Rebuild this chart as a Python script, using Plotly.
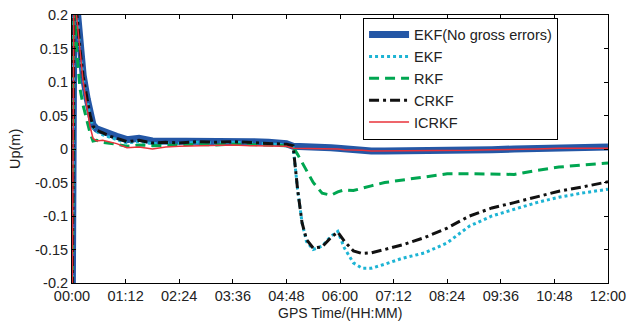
import plotly.graph_objects as go

# time in hours
t = [0, 0.05, 0.1, 0.18, 0.25, 0.34, 0.4, 0.47, 0.55, 0.69, 0.85, 1.0, 1.23, 1.5, 1.8,
     2.1, 2.4, 2.8, 3.2, 3.6, 4.0, 4.4, 4.8, 4.95, 5.05, 5.15, 5.25, 5.4, 5.6, 5.8,
     5.95, 6.1, 6.3, 6.5, 6.7, 7.0, 7.4, 7.9, 8.4, 8.9, 9.4, 9.9, 10.4, 10.9, 11.4, 12.0]

ekf_nogross = [-0.3, 0.3, 0.22, 0.15, 0.11, 0.075, 0.055, 0.036, 0.03, 0.026, 0.022, 0.019, 0.014, 0.016, 0.012,
               0.012, 0.011, 0.013, 0.011, 0.012, 0.011, 0.01, 0.008, 0.004, 0.004, 0.004, 0.004, 0.004, 0.003, 0.002,
               0.001, 0.0, -0.001, -0.002, -0.003, -0.003, -0.003, -0.003, -0.002, -0.002, -0.001, 0.0, 0.001, 0.002, 0.003, 0.003]

ekf = [-0.3, 0.3, 0.21, 0.145, 0.105, 0.07, 0.05, 0.032, 0.026, 0.021, 0.017, 0.014, 0.009, 0.011, 0.008,
       0.009, 0.008, 0.01, 0.009, 0.01, 0.009, 0.008, 0.006, 0.004, -0.06, -0.11, -0.138, -0.15, -0.145, -0.13,
       -0.123, -0.148, -0.17, -0.178, -0.178, -0.172, -0.163, -0.155, -0.14, -0.115, -0.1, -0.09, -0.08, -0.072, -0.066, -0.06]

rkf = [-0.3, 0.3, 0.15, 0.09, 0.065, 0.04, 0.025, 0.012, 0.013, 0.01, 0.009, 0.007, 0.004, 0.006, 0.005,
       0.006, 0.006, 0.007, 0.006, 0.007, 0.007, 0.006, 0.005, 0.003, -0.008, -0.02, -0.032, -0.05, -0.066, -0.069,
       -0.064, -0.061, -0.062, -0.058, -0.055, -0.05, -0.046, -0.042, -0.037, -0.037, -0.037, -0.038, -0.032, -0.027, -0.024, -0.021]

crkf = [-0.3, 0.3, 0.21, 0.148, 0.108, 0.072, 0.052, 0.034, 0.028, 0.024, 0.019, 0.016, 0.011, 0.013, 0.009,
        0.01, 0.009, 0.011, 0.01, 0.011, 0.01, 0.009, 0.007, 0.005, -0.06, -0.11, -0.135, -0.148, -0.146, -0.132,
        -0.124, -0.138, -0.152, -0.156, -0.155, -0.15, -0.143, -0.132, -0.118, -0.1, -0.088, -0.08, -0.072, -0.063, -0.057, -0.049]

icrkf = [-0.3, 0.3, 0.2, 0.14, 0.1, 0.06, 0.035, 0.016, 0.012, 0.013, 0.01, 0.008, 0.002, 0.003, 0.0,
         0.003, 0.004, 0.005, 0.005, 0.006, 0.005, 0.005, 0.004, 0.001, 0.001, 0.001, 0.001, 0.001, 0.0, 0.0,
         0.0, -0.001, -0.001, -0.002, -0.003, -0.003, -0.003, -0.002, -0.002, -0.002, -0.001, -0.001, 0.0, 0.001, 0.001, 0.001]

x_ticks = [0, 1.2, 2.4, 3.6, 4.8, 6.0, 7.2, 8.4, 9.6, 10.8, 12.0]
x_labels = ["00:00", "01:12", "02:24", "03:36", "04:48", "06:00", "07:12", "08:24", "09:36", "10:48", "12:00"]
y_ticks = [-0.2, -0.15, -0.1, -0.05, 0, 0.05, 0.1, 0.15, 0.2]
y_labels = ["-0.2", "-0.15", "-0.1", "-0.05", "0", "0.05", "0.1", "0.15", "0.2"]

fig = go.Figure()
fig.add_trace(go.Scatter(x=t, y=ekf_nogross, mode="lines", name="EKF(No gross errors)",
                         line=dict(color="#2457a6", width=7)))
fig.add_trace(go.Scatter(x=t, y=ekf, mode="lines", name="EKF",
                         line=dict(color="#1db4d4", width=3, dash="3px,3px")))
fig.add_trace(go.Scatter(x=t, y=rkf, mode="lines", name="RKF",
                         line=dict(color="#00a651", width=3, dash="10px,6px")))
fig.add_trace(go.Scatter(x=t, y=crkf, mode="lines", name="CRKF",
                         line=dict(color="#111111", width=3, dash="10px,4px,3px,4px")))
fig.add_trace(go.Scatter(x=t, y=icrkf, mode="lines", name="ICRKF",
                         line=dict(color="#e8323a", width=1.5)))

pa_w = 631 - 72 - 23
pa_h = 324 - 15 - 41

fig.update_layout(
    width=631, height=324,
    margin=dict(l=72, r=23, t=15, b=41),
    paper_bgcolor="white", plot_bgcolor="white",
    font=dict(family="Liberation Sans, Arial", size=14.5, color="#222"),
    showlegend=True,
    legend=dict(x=0.543, y=0.99, xanchor="left", yanchor="top",
                bordercolor="black", borderwidth=1, bgcolor="white",
                font=dict(size=14.5), tracegroupgap=0, itemwidth=40),
    xaxis=dict(range=[0, 12], tickvals=x_ticks, ticktext=x_labels, automargin=False,
               showline=True, linecolor="black", linewidth=1, mirror="ticks",
               ticks="inside", ticklen=4, tickcolor="black", showgrid=False, zeroline=False),
    yaxis=dict(range=[-0.2, 0.2], tickvals=y_ticks, ticktext=y_labels, automargin=False,
               showline=True, linecolor="black", linewidth=1, mirror="ticks",
               ticks="inside", ticklen=4, tickcolor="black", showgrid=False, zeroline=False),
    annotations=[
        dict(text="GPS Time/(HH:MM)", x=0.5, y=(283 - 313) / pa_h, xref="paper", yref="paper",
             showarrow=False, font=dict(size=14), yanchor="middle"),
        dict(text="Up(m)", x=(15 - 72) / pa_w, y=0.5, xref="paper", yref="paper",
             showarrow=False, font=dict(size=14.5), textangle=-90, xanchor="center"),
    ],
)
fig.write_html("out.html")
